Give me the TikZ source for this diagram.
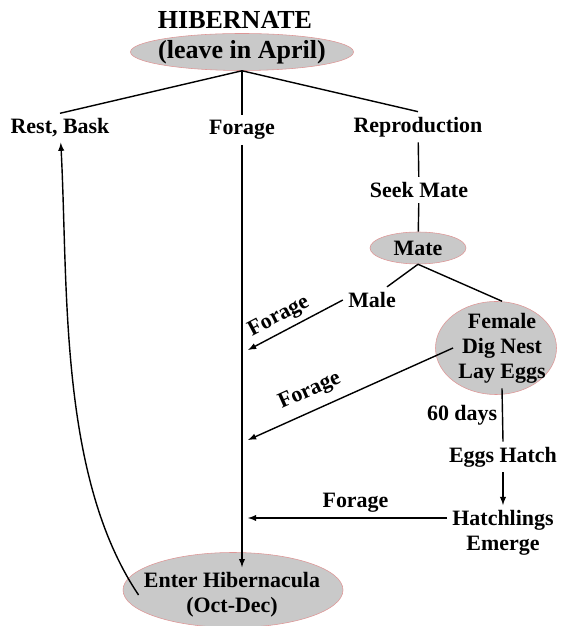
\documentclass[tikz,border=0pt]{standalone}
\usepackage{fontspec}
\setmainfont{Liberation Serif}
\usepackage{tikz}
\usetikzlibrary{arrows,shapes.geometric}
\definecolor{ovalfill}{RGB}{201,201,201}
\definecolor{ovalline}{RGB}{222,150,150}

\begin{document}
\begin{tikzpicture}[>=latex, line width=1pt,
    every node/.style={font=\bfseries\fontsize{15.6}{17.8}\selectfont, align=center},
    head/.style={font=\bfseries\fontsize{18.5}{21}\selectfont},
    oval/.style={ellipse, draw=ovalline, fill=ovalfill, line width=0.4pt}]
  \useasboundingbox (0, 0) rectangle (14, 15.65);
  \node [oval, minimum width=5.575cm, minimum height=0.925cm] (OA) at (6.05, 14.35) {};
  \node [oval, minimum width=2.4cm, minimum height=0.8cm] (OB) at (10.45, 9.45) {};
  \node [oval, minimum width=3.025cm, minimum height=2.325cm] (OC) at (12.4, 6.95) {};
  \node [oval, minimum width=5.5cm, minimum height=1.875cm] (OD) at (5.825, 0.9) {};
  \node [head] (AA) at (5.875, 15.15) {HIBERNATE};
  \node [head] (AB) at (6.05, 14.35) {(leave in April)};
  \node (BA) at (1.5, 12.45) {Rest, Bask};
  \node (BB) at (6.05, 12.4) {Forage};
  \node (BC) at (10.45, 12.475) {Reproduction};
  \node (CC) at (10.475, 10.9) {Seek Mate};
  \node (DC) at (10.45, 9.45) {Mate};
  \node (EB) at (9.3, 8.15) {Male};
  \node (EC) at (12.55, 6.95) {Female\\Dig Nest\\Lay Eggs};
  \node (GC) at (12.575, 4.225) {Eggs Hatch};
  \node (HC) at (12.575, 2.325) {Hatchlings\\Emerge};
  \node (JA) at (5.8, 0.775) {Enter Hibernacula\\(Oct-Dec)};
  \coordinate (PA) at (6.2, 6.9);
  \coordinate (PB) at (6.2, 4.65);
  \coordinate (PC) at (6.2, 2.7);
  \draw (OA.south) -- (BA.north);
  \draw (OA.south) -- (BB.north);
  \draw (OA.south) -- (BC.north);
  \draw (BC) -- (CC);
  \draw (CC) -- (OB);
  \draw (OB.south) -- ([xshift=0.375cm]EB.north);
  \draw (OB.south) -- ([xshift=0.15cm]OC.north);
  \draw [->] (EB.west) -- node [above, sloped, pos=0.6] {Forage} (PA);
  \draw [->] (EC.west) -- node [above=3pt, sloped, pos=0.66] {Forage} (PB);
  \draw (EC.south) -- node [left] {60 days} (GC.north);
  \draw [->] (GC) -- (HC);
  \draw [->] (HC.west |- PC) -- node [above, pos=0.46] {Forage} (PC);
  \draw [->] (BB) -- (BB |- JA.north);
  \draw [->] (JA.west) to [out = 124, in = -87, looseness = 0.8] (BA);
\end{tikzpicture}
\end{document}
